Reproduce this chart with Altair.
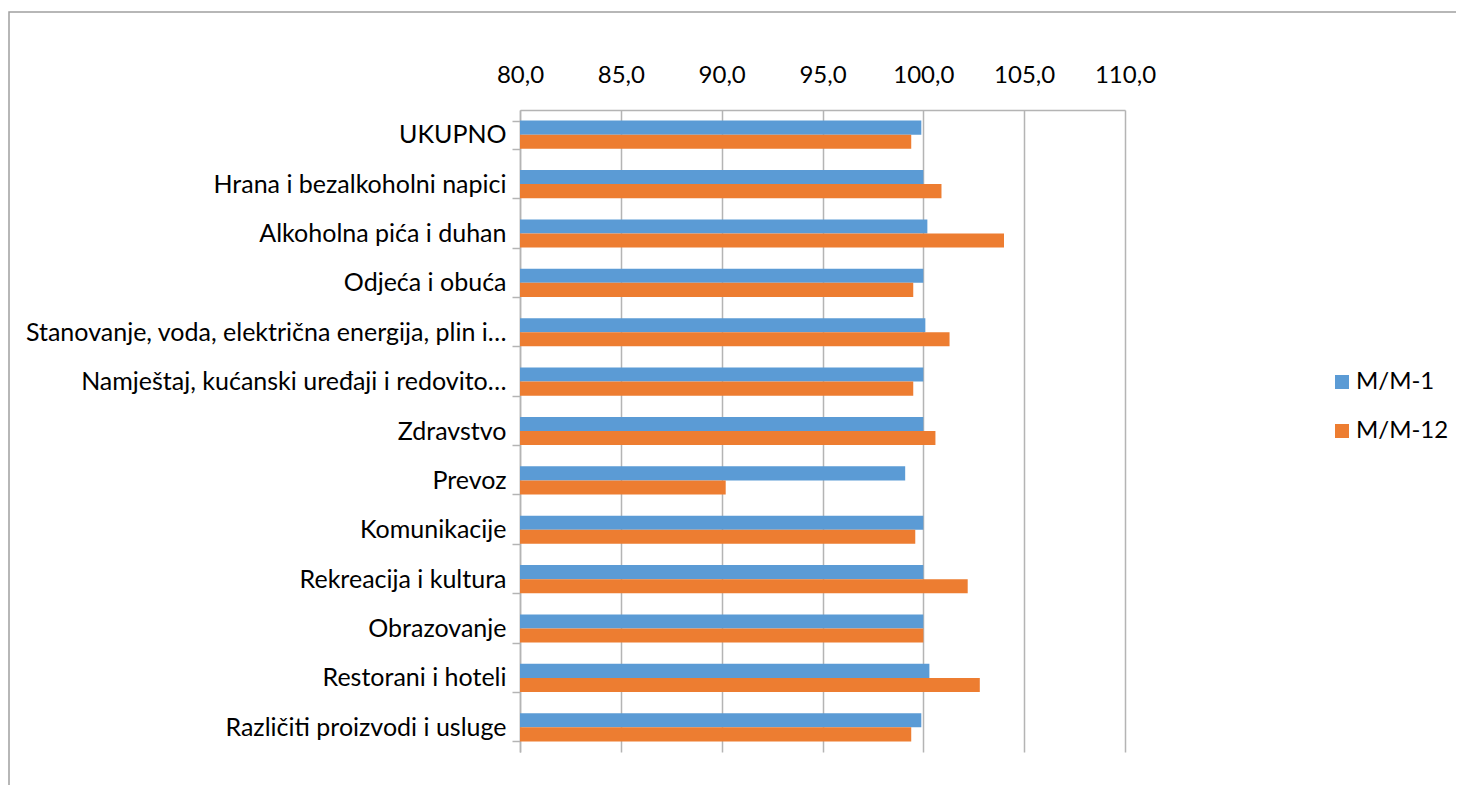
import altair as alt
import pandas as pd

categories = [
    "UKUPNO",
    "Hrana i bezalkoholni napici",
    "Alkoholna pića i duhan",
    "Odjeća i obuća",
    "Stanovanje, voda, električna energija, plin i…",
    "Namještaj, kućanski uređaji i redovito…",
    "Zdravstvo",
    "Prevoz",
    "Komunikacije",
    "Rekreacija i kultura",
    "Obrazovanje",
    "Restorani i hoteli",
    "Različiti proizvodi i usluge",
]
m1 = [99.9, 100.0, 100.2, 100.0, 100.1, 100.0, 100.0, 99.1, 100.0, 100.0, 100.0, 100.3, 99.9]
m12 = [99.4, 100.9, 104.0, 99.5, 101.3, 99.5, 100.6, 90.2, 99.6, 102.2, 100.0, 102.8, 99.4]
series = ["M/M-1", "M/M-12"]
colors = ["#5B9BD5", "#ED7D31"]
x_ticks = [80, 85, 90, 95, 100, 105, 110]

rows = []
for c, a, b in zip(categories, m1, m12):
    rows.append({"cat": c, "series": series[0], "value": a})
    rows.append({"cat": c, "series": series[1], "value": b})
df = pd.DataFrame(rows)

FONT = "Lato"
FS = 24
GRID = "#b4b4b4"

bars = alt.Chart(df).mark_bar().encode(
    y=alt.Y("cat:N", sort=categories,
            scale=alt.Scale(paddingInner=0.43, paddingOuter=0.215),
            axis=alt.Axis(title=None, orient="left", tickBand="extent",
                          tickSize=8, tickColor=GRID,
                          tickWidth=1.5, domainColor=GRID, domainWidth=1.5,
                          labelFont=FONT, labelFontSize=25, labelColor="#000000",
                          labelPadding=6, labelLimit=700, grid=False)),
    yOffset=alt.YOffset("series:N", sort=series, scale=alt.Scale(paddingInner=0, paddingOuter=0)),
    x=alt.X("value:Q",
            scale=alt.Scale(domain=[80, 110], nice=False, zero=False),
            axis=alt.Axis(title=None, orient="top", values=x_ticks, ticks=False,
                          grid=True, gridColor=GRID, gridWidth=1.5,
                          domainColor=GRID, domainWidth=1.5,
                          labelFont=FONT, labelFontSize=FS, labelColor="#000000",
                          labelPadding=23, labelFlush=False, labelOverlap=False,
                          labelExpr="replace(format(datum.value, '.1f'), '.', ',')")),
    x2=alt.datum(80),
    color=alt.Color("series:N", scale=alt.Scale(domain=series, range=colors),
                    legend=alt.Legend(title=None, orient="none", legendX=810, legendY=260,
                                      symbolType="square", symbolSize=196,
                                      symbolStrokeWidth=0, labelFont=FONT,
                                      labelFontSize=FS, labelColor="#000000",
                                      rowPadding=25, labelOffset=2)),
)

deco = pd.DataFrame({"f": [0]})
frame = alt.Chart(deco).mark_rect(
    fill="transparent", stroke="#a0a0a0", strokeWidth=1.5
).encode(
    x=alt.value(-511), x2=alt.value(1000), y=alt.value(-98), y2=alt.value(800)
)

chart = alt.layer(frame, bars).properties(
    width=605, height=642,
    background="white",
    autosize=alt.AutoSizeParams(type="none"),
    padding={"left": 512, "top": 102, "right": 331, "bottom": 33},
).configure_view(strokeWidth=0, stroke="transparent")

chart.save("out.html", embed_options={"renderer": "svg", "actions": False})
